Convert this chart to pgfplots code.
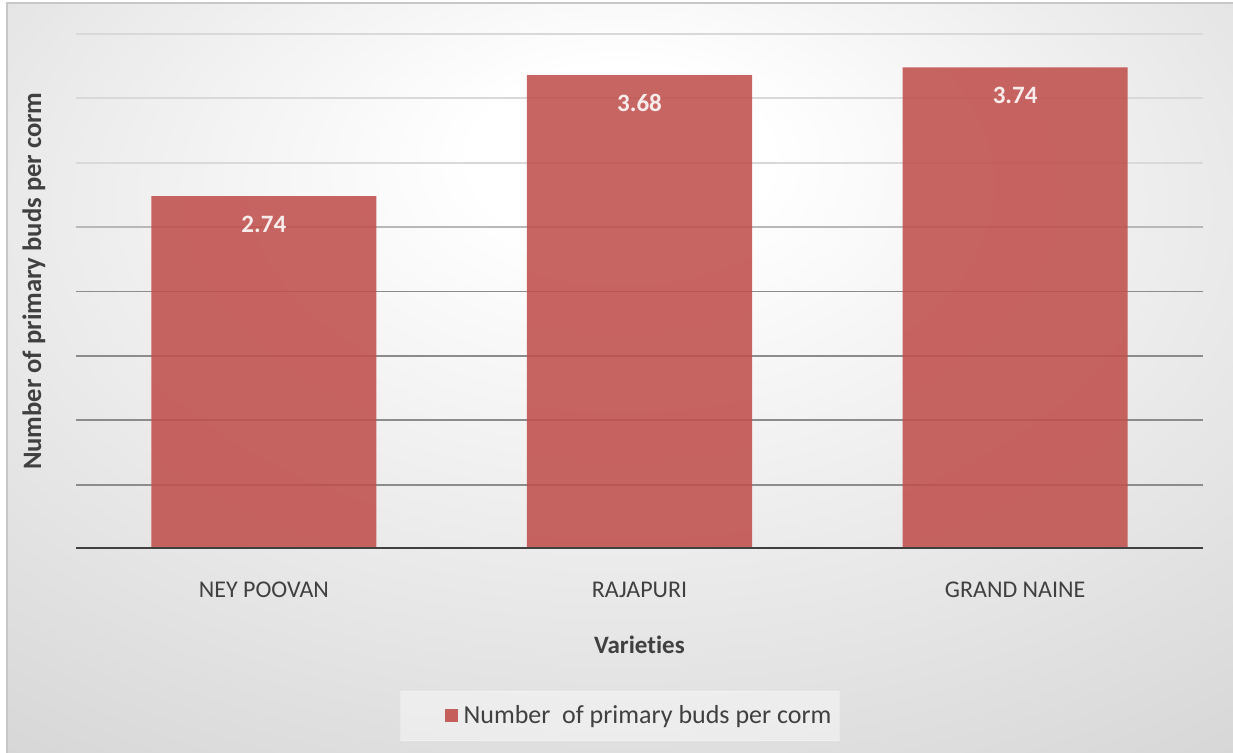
\documentclass[border=0pt]{standalone}
\usepackage{pgfplots}
\pgfplotsset{compat=1.18}
\usepackage{fontspec}
\setmainfont{Carlito}[Ligatures=NoCommon]
\definecolor{barcol}{RGB}{192,80,77}
\definecolor{txt}{RGB}{64,64,64}
\pgfdeclareradialshading{bgshade}{\pgfpoint{0bp}{16bp}}{color(0bp)=(white); color(6bp)=(white); color(42bp)=(black!16); color(58bp)=(black!21); color(80bp)=(black!26)}
\begin{document}
\begin{tikzpicture}
\fill[white] (-38pt,-102pt) rectangle (578.5pt,274.5pt);
\shade[shading=bgshade] (-34.5pt,-102pt) rectangle (578.5pt,273pt);
\draw[black!22, line width=0.8pt] (-34.5pt,-102pt) -- (-34.5pt,273pt) -- (578.5pt,273pt);
\begin{axis}[
  at={(0pt,0pt)}, anchor=south west,
  scale only axis, width=563.5pt, height=257.5pt,
  xmin=-0.5, xmax=2.5, ymin=0, ymax=4,
  ybar, bar width=112.5pt,
  axis line style={draw=none},
  major tick length=0pt, minor tick length=0pt,
  xtick={0,1,2}, xticklabels={NEY POOVAN,RAJAPURI,GRAND NAINE},
  xticklabel style={anchor=center, yshift=-20.5pt, font=\fontsize{12}{14}\selectfont, text=txt},
  ytick={3,3.5,4}, yticklabels={},
  minor ytick={2.5},
  extra y ticks={0.5,1,1.5,2}, extra y tick labels={},
  extra y tick style={major grid style={black!45, line width=0.9pt}},
  ymajorgrids, yminorgrids,
  major grid style={black!15, line width=0.9pt},
  minor grid style={black!28, line width=0.9pt},
  xlabel={Varieties},
  xlabel style={at={(axis description cs:0.5,0)}, anchor=center, yshift=-48pt, font=\bfseries\fontsize{12.5}{14}\selectfont, text=txt},
  ylabel={Number of primary buds per corm},
  ylabel style={at={(axis description cs:0,0.52)}, anchor=center, yshift=21pt, font=\bfseries\fontsize{13.3}{15}\selectfont, text=txt},
  /pgf/number format/assume math mode=true,
  /pgf/number format/fixed, /pgf/number format/fixed zerofill, /pgf/number format/precision=2,
  nodes near coords,
  nodes near coords style={anchor=center, yshift=-14pt, text=white, font=\bfseries\fontsize{12.5}{14}\selectfont},
  legend style={at={(0.5,0)}, anchor=center, yshift=-83.5pt, xshift=-9.75pt, draw=white, draw opacity=0.3, line width=0.8pt,
    fill=white, fill opacity=0.4, text opacity=1, inner xsep=1pt, inner ysep=5pt,
    font=\fontsize{13}{15}\selectfont, text=txt,
    nodes={inner xsep=3pt}},
  legend image code/.code={\path (0pt,0pt); \fill[barcol, fill opacity=0.9] (21pt,-3.25pt) rectangle (27.5pt,3.25pt);},
]
\addplot[draw=none, fill=barcol, fill opacity=0.88] coordinates {(0,2.74) (1,3.68) (2,3.74)};
\addlegendentry{Number~ of primary buds per corm}
\draw[txt, line width=1.6pt] (axis cs:-0.5,0) -- (axis cs:2.5,0);
\end{axis}
\pgfresetboundingbox
\useasboundingbox (-38pt,-102pt) rectangle (578.5pt,274.5pt);
\end{tikzpicture}
\end{document}
